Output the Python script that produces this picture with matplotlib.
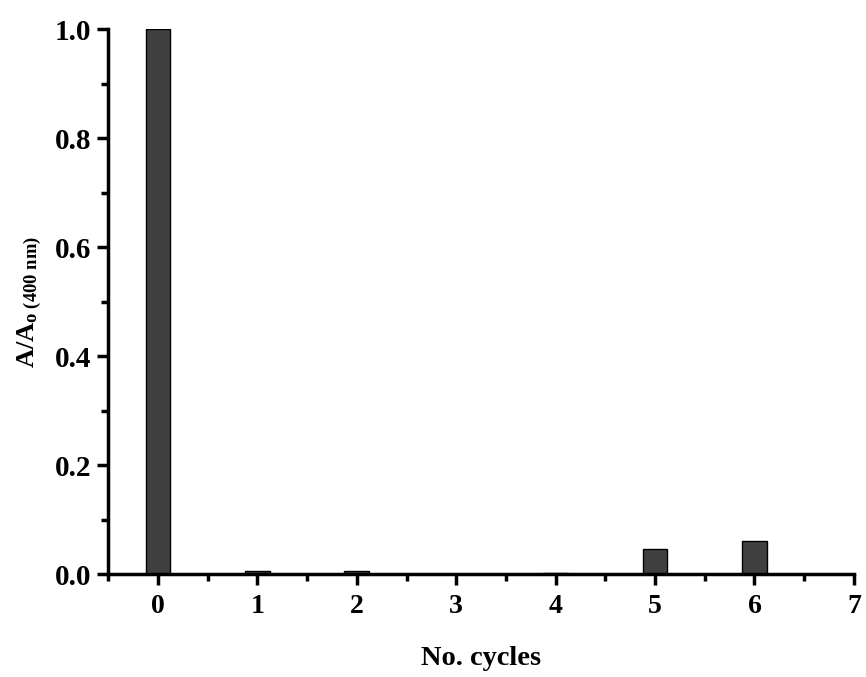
import matplotlib
matplotlib.use("Agg")
import matplotlib.pyplot as plt
from matplotlib.ticker import MultipleLocator

plt.rcParams['font.family'] = 'Liberation Serif'
plt.rcParams['font.weight'] = 'bold'
plt.rcParams['mathtext.fontset'] = 'custom'
plt.rcParams['mathtext.rm'] = 'Liberation Serif:bold'
plt.rcParams['mathtext.bf'] = 'Liberation Serif:bold'
plt.rcParams['mathtext.it'] = 'Liberation Serif:bold'

# relative absorbance at 400 nm after each reuse cycle
cycles = [0, 1, 2, 3, 4, 5, 6]
ratio = [1.0, 0.005, 0.005, 0.0, 0.002, 0.046, 0.060]

fig = plt.figure(figsize=(8.66, 6.77), dpi=100)
ax = fig.add_axes([0.125, 0.152, 0.861, 0.805])

ax.bar(cycles, ratio, width=0.25, color='#404040', edgecolor='black', linewidth=1.0)

ax.set_xlim(-0.5, 7)
ax.set_ylim(0, 1.0)
ax.xaxis.set_major_locator(MultipleLocator(1))
ax.xaxis.set_minor_locator(MultipleLocator(0.5))
ax.yaxis.set_major_locator(MultipleLocator(0.2))
ax.yaxis.set_minor_locator(MultipleLocator(0.1))

for s in ['top', 'right']:
    ax.spines[s].set_visible(False)
for s in ['left', 'bottom']:
    ax.spines[s].set_linewidth(2.5)

ax.tick_params(which='major', direction='out', length=8, width=2.5)
ax.tick_params(which='minor', direction='out', length=5, width=2.5)
ax.tick_params(axis='y', labelsize=21, pad=4)
ax.tick_params(axis='x', labelsize=20, pad=6)
for lab in ax.get_xticklabels() + ax.get_yticklabels():
    lab.set_fontweight('bold')

ax.set_xlabel('No. cycles', fontsize=20.5, fontweight='bold', labelpad=20)
ax.set_ylabel(r'$\mathrm{A/A}_{\mathrm{o\ (400\ nm)}}$', fontsize=19, labelpad=8)

fig.savefig('out.png', dpi=100)
